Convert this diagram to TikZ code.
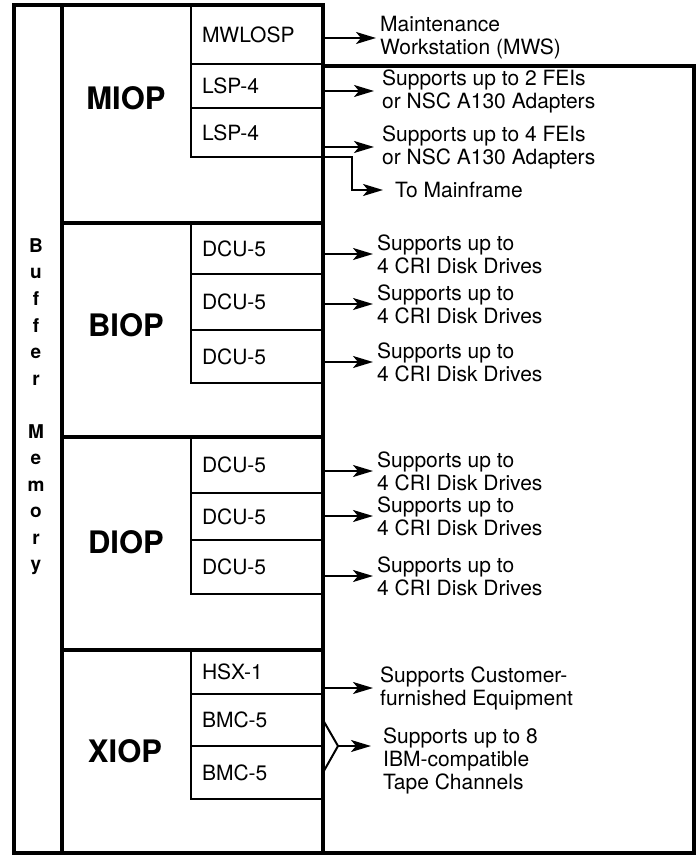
\documentclass[tikz,border=0pt]{standalone}
\usepackage{fontspec}
\setmainfont{TeX Gyre Heros}
\usetikzlibrary{positioning, arrows.meta, calc}

\begin{document}
\begin{tikzpicture}[
    x=1pt, y=-1pt,
    frame/.style={
        line width=3.6pt
    },
    iop/.style={
        rectangle,
        draw=black,
        line width=3.6pt,
        minimum width=261pt,
        anchor=north west,
        inner sep=0pt,
        outer sep=0pt
    },
    iopname/.style={
        font=\fontsize{31}{31}\selectfont\bfseries
    },
    unit/.style={
        rectangle,
        draw=black,
        line width=2pt,
        text width=110pt,
        inner xsep=11pt,
        inner ysep=0pt,
        outer sep=0pt,
        node distance=0pt,
        align=left,
        font=\fontsize{21}{23}\selectfont
    },
    note/.style={
        anchor=west,
        align=left,
        inner sep=0pt,
        font=\fontsize{21}{23}\selectfont
    },
    bufchar/.style={
        anchor=base,
        font=\fontsize{19}{19}\selectfont\bfseries
    },
    feed/.style={
        -{Stealth[length=20pt, width=12pt, inset=5pt]},
        line width=2.2pt
    }
]
    \useasboundingbox (0,0) rectangle (698,858);

    % IOP boxes
    \node[iop, minimum height=218pt] (miop) at (62,5) {};
    \node[iop, minimum height=214pt] (biop) at (62,223) {};
    \node[iop, minimum height=213pt] (diop) at (62,437) {};
    \node[iop, minimum height=203pt] (xiop) at (62,650) {};

    % Outer frame
    \coordinate (corner) at (694,66);
    \draw[frame] (miop.north west) -- ++(-48,0) |- (corner |- xiop.south) -- (corner) -- (miop.east |- corner);

    % Buffer Memory
    \foreach \ch [count=\k] in {B,u,f,f,e,r,{},M,e,m,o,r,y}
        \node[bufchar] (buf\k) at (36,{252.5+26.5*(\k-1)}) {\ch};

    % IOP names
    \node[iopname] (miopname) at (126,98) {MIOP};
    \node[iopname] (biopname) at (126,325) {BIOP};
    \node[iopname] (diopname) at (126,542) {DIOP};
    \node[iopname] (xiopname) at (125,751) {XIOP};

    % MIOP units
    \node[unit, anchor=north west, minimum height=59pt] (u11) at (191,5) {MWLOSP};
    \node[unit, below=of u11, minimum height=44pt] (u12) {LSP-4};
    \node[unit, below=of u12, minimum height=49pt] (u13) {LSP-4};

    % BIOP units
    \node[unit, anchor=north west, minimum height=51pt] (u21) at (191,223) {DCU-5};
    \node[unit, below=of u21, minimum height=56pt] (u22) {DCU-5};
    \node[unit, below=of u22, minimum height=53pt] (u23) {DCU-5};

    % DIOP units
    \node[unit, anchor=north west, minimum height=56pt] (u31) at (191,437) {DCU-5};
    \node[unit, below=of u31, minimum height=47pt] (u32) {DCU-5};
    \node[unit, below=of u32, minimum height=54pt] (u33) {DCU-5};

    % XIOP units
    \node[unit, anchor=north west, minimum height=44pt] (u41) at (191,650) {HSX-1};
    \node[unit, below=of u41, minimum height=52pt] (u42) {BMC-5};
    \node[unit, below=of u42, minimum height=53pt] (u43) {BMC-5};

    % Notes
    \node[note] (mws) at (380,38) {Maintenance\\Workstation (MWS)};
    \node[note] (fei2) at (382,91) {Supports up to 2 FEIs\\or NSC A130 Adapters};
    \node[note] (fei4) at (382,147) {Supports up to 4 FEIs\\or NSC A130 Adapters};
    \node[note] (mainframe) at (395,190) {To Mainframe};
    \node[note] (disk21) at (377,254) {Supports up to\\4 CRI Disk Drives};
    \node[note] (disk22) at (377,304) {Supports up to\\4 CRI Disk Drives};
    \node[note] (disk23) at (377,362) {Supports up to\\4 CRI Disk Drives};
    \node[note] (disk31) at (377,471) {Supports up to\\4 CRI Disk Drives};
    \node[note] (disk32) at (377,516) {Supports up to\\4 CRI Disk Drives};
    \node[note] (disk33) at (377,576) {Supports up to\\4 CRI Disk Drives};
    \node[note] (cust) at (380,688) {Supports Customer-\\furnished Equipment};
    \node[note] (tape) at (383,761) {Supports up to 8\\IBM-compatible\\Tape Channels};

    % Arrows
    \draw[feed] (u11.east |- mws.west) -- ([xshift=-4pt]mws.west);
    \draw[feed] (u12.east |- fei2.west) -- ([xshift=-8pt]fei2.west);
    \draw[feed] (u13.east |- fei4.west) -- ([xshift=-8pt]fei4.west);
    \draw[feed] (u13.south east) -- ++(29,0) |- ([xshift=-12pt]mainframe.west);
    \foreach \u/\d in {u21/disk21, u22/disk22, u23/disk23, u31/disk31, u32/disk32, u33/disk33}
        \draw[feed] (\u.east |- \d.west) -- ([xshift=-4pt]\d.west);
    \draw[feed] (u41.east |- cust.west) -- ([xshift=-7pt]cust.west);

    % Tape channel fork
    \coordinate (fork) at ($(u42.south east)+(15,0)$);
    \draw[line width=2pt] (u42.east) -- (fork) -- (u43.east);
    \draw[feed] (fork) -- ([xshift=-12pt]fork -| tape.west);

\end{tikzpicture}
\end{document}
